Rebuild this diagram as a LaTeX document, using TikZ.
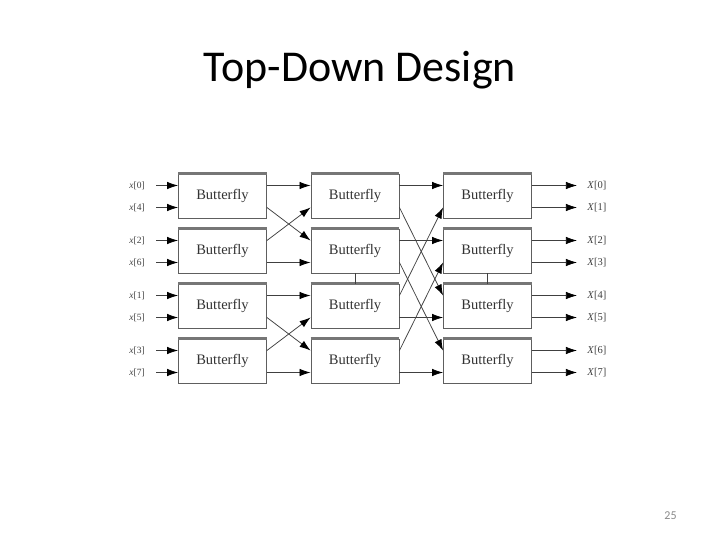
\documentclass[tikz,border=0pt]{standalone}
\usepackage{fontspec}
\setmainfont{Liberation Serif}
\newfontfamily\calibri{Carlito}
\usetikzlibrary{arrows.meta}
\definecolor{boxline}{HTML}{5E5E5E}
\definecolor{wire}{HTML}{404040}
\definecolor{pagenum}{HTML}{8A8A8A}
\tikzset{
  bfly/.style={draw=boxline, line width=0.9pt, fill=white, minimum width=88pt, minimum height=44pt, inner sep=0pt, font=\fontsize{14.5}{15}\selectfont, text=black!80},
  topedge/.style={draw=boxline!85, line width=2.4pt},
  wirearrow/.style={draw=wire, line width=0.75pt, -{Latex[length=11pt,width=7.5pt,color=black]}},
  plainwire/.style={draw=wire, line width=0.75pt},
  inlabel/.style={font=\fontsize{9.5}{10}\selectfont, text=black!75, inner sep=0pt},
  outlabel/.style={font=\fontsize{10.5}{11}\selectfont, text=black!75, inner sep=0pt},
  titletext/.style={font=\calibri\fontsize{44}{48}\selectfont, inner sep=0pt, anchor=base},
  pagetext/.style={font=\calibri\fontsize{12}{14}\selectfont, text=pagenum, inner sep=0pt, anchor=base}
}
\begin{document}
\begin{tikzpicture}[x=1pt, y=-1pt]
\useasboundingbox[fill=white] (0,0) rectangle (720,540);
\node[titletext] (title) at (360,82) {Top-Down Design};
\node[pagetext] (page) at (670.5,519) {25};
% boxes and ports
\foreach \s/\x in {1/222.5, 2/355, 3/487.5} {
  \foreach \k in {0,1,2,3} {
    \pgfmathtruncatemacro{\la}{2*\k}
    \pgfmathtruncatemacro{\lb}{2*\k+1}
    \node[bfly] (b\s\k) at (\x, 196+55*\k) {Butterfly};
    \draw[topedge] (b\s\k.north west) -- (b\s\k.north east);
    \coordinate (in\s-\la) at ([yshift=10.5pt]b\s\k.west);
    \coordinate (in\s-\lb) at ([yshift=-11.5pt]b\s\k.west);
    \coordinate (out\s-\la) at ([yshift=10.5pt]b\s\k.east);
    \coordinate (out\s-\lb) at ([yshift=-11.5pt]b\s\k.east);
  }
}
% inputs
\foreach \l/\n in {0/0, 1/4, 2/2, 3/6, 4/1, 5/5, 6/3, 7/7} {
  \path (in1-\l) ++(-41,0) node[inlabel] (xin\l) {\textit{x}[\n]};
  \coordinate (xs\l) at ([xshift=-22pt]in1-\l);
  \draw[wirearrow] (xs\l) -- (in1-\l);
}
% stage 1 -> 2
\foreach \a/\b in {0/0, 1/2, 2/1, 3/3, 4/4, 5/6, 6/5, 7/7} {
  \draw[wirearrow] (out1-\a) -- (in2-\b);
}
% stage 2 -> 3
\foreach \a/\b in {0/0, 1/4, 2/2, 3/6, 4/1, 5/5, 6/3, 7/7} {
  \draw[wirearrow] (out2-\a) -- (in3-\b);
}
% vertical links
\draw[plainwire] (b21.south) -- (b22.north);
\draw[plainwire] (b31.south) -- (b32.north);
% outputs
\foreach \l in {0,...,7} {
  \coordinate (xe\l) at ([xshift=45pt]out3-\l);
  \draw[wirearrow] (out3-\l) -- (xe\l);
  \path (out3-\l) ++(65,0) node[outlabel] (xout\l) {\textit{X}[\l]};
}
\end{tikzpicture}
\end{document}
